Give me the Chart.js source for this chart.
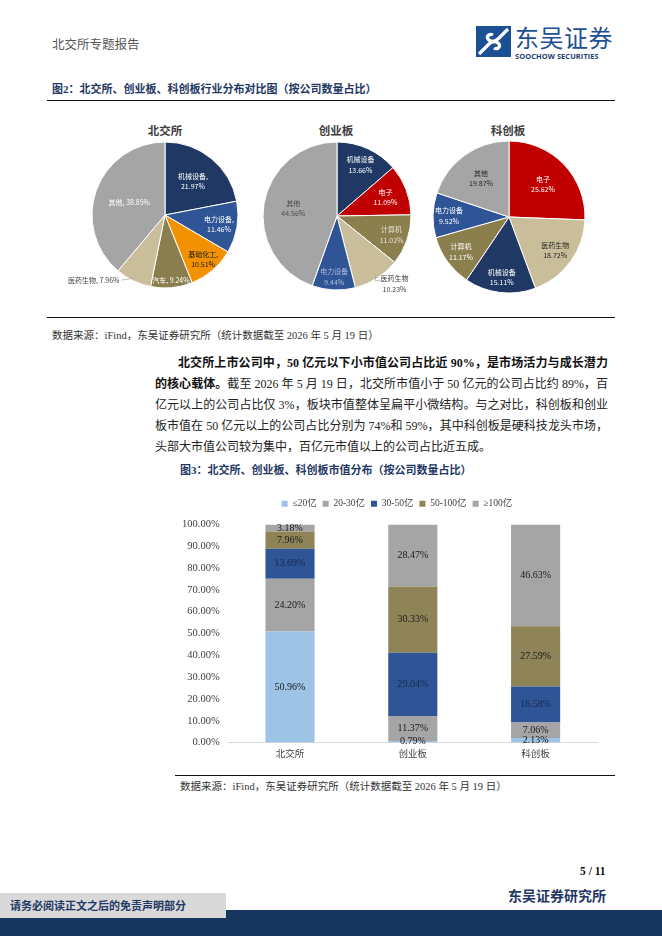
<!DOCTYPE html>
<html>
<head>
<meta charset="utf-8">
<script src="https://cdn.jsdelivr.net/npm/chart.js@4.4.1/dist/chart.umd.min.js"></script>
<style>
  html, body { margin: 0; padding: 0; background: #fff; }
  #page { position: relative; width: 662px; height: 936px; overflow: hidden; font-family: "Liberation Serif", "Noto Sans CJK SC", serif; color: #222; }
  .abs { position: absolute; white-space: nowrap; }
  .hr { position: absolute; background: #111; height: 1.4px; }
  .figtitle { font-family: "Liberation Serif", "Noto Sans CJK SC"; font-weight: bold; font-size: 11px; color: #1F3864; }
  .src { font-size: 10.5px; color: #333; }
  .pietitle { font-family: "Noto Sans CJK SC"; font-weight: bold; font-size: 11.5px; color: #404040; width: 80px; text-align: center; }
  .para { position: absolute; left: 155px; width: 453px; font-size: 12px; line-height: 21.2px; color: #222; }
  .para div { text-align: justify; text-align-last: justify; height: 21.2px; white-space: nowrap; }
  .para div.last { text-align-last: left; }
  .para b { font-weight: bold; color: #111; }
  canvas { position: absolute; }
</style>
</head>
<body>
<div id="page">
  <div class="abs" style="left:52px;top:34px;font-size:12.5px;color:#555;">北交所专题报告</div>

  <svg class="abs" style="left:476px;top:26px;" width="36" height="32" viewBox="0 0 36 32">
    <rect x="0" y="0" width="35" height="31" fill="#1d4f95"/>
    <path d="M3 28 L13 18 C16 15 21 15 23 18 C25 21 21 24 18 22" fill="none" stroke="#fff" stroke-width="3.2"/>
    <path d="M32 3 L22 13 C19 16 14 16 12 13 C10 10 14 7 17 9" fill="none" stroke="#fff" stroke-width="3.2"/>
  </svg>
  <div class="abs" style="left:515px;top:21px;font-family:'Noto Sans CJK SC';font-size:24px;line-height:32px;color:#1d4f95;letter-spacing:0.5px;">东吴证券</div>
  <div class="abs" style="left:515px;top:51px;font-family:'Open Sans','DejaVu Sans';font-weight:bold;font-size:7.4px;color:#1d3d70;letter-spacing:0.1px;">SOOCHOW SECURITIES</div>

  <div class="abs figtitle" style="left:52px;top:80px;">图2：北交所、创业板、科创板行业分布对比图（按公司数量占比）</div>
  <div class="hr" style="left:47px;top:100px;width:568px;"></div>

  <div class="abs pietitle" style="left:125px;top:122px;">北交所</div>
  <div class="abs pietitle" style="left:296px;top:122px;">创业板</div>
  <div class="abs pietitle" style="left:468px;top:122px;">科创板</div>
  <canvas id="pie1" width="230" height="170" style="left:50px;top:130px;width:230px;height:170px;"></canvas>
  <canvas id="pie2" width="230" height="170" style="left:222px;top:131px;width:230px;height:170px;"></canvas>
  <canvas id="pie3" width="230" height="170" style="left:394px;top:132px;width:230px;height:170px;"></canvas>

  <div class="hr" style="left:47px;top:317px;width:568px;"></div>
  <div class="abs src" style="left:52px;top:327px;">数据来源：iFind，东吴证券研究所（统计数据截至 2026 年 5 月 19 日）</div>

  <div class="para" style="top:352.5px;">
    <div style="margin-left:23px;"><b>北交所上市公司中，50 亿元以下小市值公司占比近 90%，是市场活力与成长潜力</b></div>
    <div><b>的核心载体。</b>截至 2026 年 5 月 19 日，北交所市值小于 50 亿元的公司占比约 89%，百</div>
    <div>亿元以上的公司占比仅 3%，板块市值整体呈扁平小微结构。与之对比，科创板和创业</div>
    <div>板市值在 50 亿元以上的公司占比分别为 74%和 59%，其中科创板是硬科技龙头市场，</div>
    <div class="last">头部大市值公司较为集中，百亿元市值以上的公司占比近五成。</div>
  </div>

  <div class="abs figtitle" style="left:180px;top:461px;">图3：北交所、创业板、科创板市值分布（按公司数量占比）</div>
  <canvas id="bar" width="432" height="271" style="left:173px;top:493px;width:432px;height:271px;"></canvas>

  <div class="hr" style="left:175px;top:775px;width:440px;"></div>
  <div class="abs src" style="left:180px;top:778px;">数据来源：iFind，东吴证券研究所（统计数据截至 2026 年 5 月 19 日）</div>

  <div class="abs" style="left:580px;top:865px;font-size:11.5px;font-weight:bold;color:#111;">5 / 11</div>
  <div class="abs" style="left:508px;top:885px;font-size:14px;font-weight:bold;color:#1F3864;font-family:'Noto Sans CJK SC';">东吴证券研究所</div>
  <div class="abs" style="left:0;top:910px;width:662px;height:26px;background:#17375E;"></div>
  <div class="abs" style="left:0;top:893px;width:226px;height:25px;background:#D9D9D9;"></div>
  <div class="abs" style="left:10px;top:897px;font-size:11px;font-weight:bold;color:#1F3864;font-family:'Noto Sans CJK SC';">请务必阅读正文之后的免责声明部分</div>
</div>

<script>
// ---- figure 2: industry share by number of companies ----
const bjsIndustries = ['机械设备', '电力设备', '基础化工', '汽车', '医药生物', '其他'];
const bjsShares = [21.97, 11.46, 10.51, 9.24, 7.96, 38.85];
const cybIndustries = ['机械设备', '电子', '计算机', '医药生物', '电力设备', '其他'];
const cybShares = [13.66, 11.09, 11.02, 10.23, 9.44, 44.56];
const kcbIndustries = ['电子', '医药生物', '机械设备', '计算机', '电力设备', '其他'];
const kcbShares = [25.62, 18.72, 15.11, 11.17, 9.52, 19.87];

// ---- figure 3: market cap distribution ----
const boards = ['北交所', '创业板', '科创板'];
const capBands = ['≤20亿', '20-30亿', '30-50亿', '50-100亿', '≥100亿'];
const capUnder20 = [50.96, 0.79, 2.13];
const cap20to30 = [24.20, 11.37, 7.06];
const cap30to50 = [13.69, 29.04, 16.58];
const cap50to100 = [7.96, 30.33, 27.59];
const capOver100 = [3.18, 28.47, 46.63];
const yTicks = [0, 10, 20, 30, 40, 50, 60, 70, 80, 90, 100];

const industryColors = {
  '机械设备': '#1F3864', '电力设备': '#2F5597', '基础化工': '#F39200', '汽车': '#8A7E4E',
  '医药生物': '#C9BD9A', '其他': '#A5A5A5', '电子': '#C00000', '计算机': '#8B7F4E'
};

// label text layout for each slice: separator, radius fraction, colour, optional outside placement
const pieStyles = {
  pie1: [
    { sep: ',\n', r: 0.6, color: '#fff' },
    { sep: ',\n', r: 0.75, color: '#fff' },
    { sep: ',\n', r: 0.8, color: '#1a1a1a' },
    { sep: ', ', r: 0.9, color: '#fff' },
    { sep: ', ', color: '#404040', out: { dx: -15, dy: 2, align: 'right', leader: [[0, 0], [-13, 2]] } },
    { sep: ', ', r: 0.52, color: '#fff' }
  ],
  pie2: [
    { sep: '\n', r: 0.76, color: '#fff' },
    { sep: '\n', r: 0.7, color: '#fff' },
    { sep: '\n', r: 0.78, color: '#e4e0d0' },
    { sep: '\n', color: '#404040', out: { dx: 19, dy: 3, align: 'center', leader: [[0, 0], [0, 5], [5, 5]] } },
    { sep: '\n', r: 0.82, color: '#a9bbdb' },
    { sep: '\n', r: 0.6, color: '#4a4a4a' }
  ],
  pie3: [
    { sep: '\n', r: 0.62, color: '#fff' },
    { sep: '\n', r: 0.75, color: '#262626' },
    { sep: '\n', r: 0.8, color: '#fff' },
    { sep: '\n', r: 0.78, color: '#fff' },
    { sep: '\n', r: 0.79, color: '#fff' },
    { sep: '\n', r: 0.63, color: '#262626' }
  ]
};

const pieLabels = {
  id: 'pieLabels',
  afterDatasetsDraw(chart) {
    const ctx = chart.ctx;
    const styles = pieStyles[chart.canvas.id];
    const ds = chart.data.datasets[0];
    const lh = 10.5;
    chart.getDatasetMeta(0).data.forEach((arc, i) => {
      const p = arc.getProps(['x', 'y', 'startAngle', 'endAngle', 'outerRadius'], true);
      const mid = (p.startAngle + p.endAngle) / 2;
      const st = styles[i];
      const lines = (chart.data.labels[i] + st.sep + ds.data[i].toFixed(2) + '%').split('\n');
      ctx.save();
      ctx.font = '7px "Noto Sans CJK SC"';
      ctx.textBaseline = 'middle';
      let x, y;
      if (st.out) {
        const ax = p.x + Math.cos(mid) * p.outerRadius * 0.96;
        const ay = p.y + Math.sin(mid) * p.outerRadius * 0.96;
        ctx.strokeStyle = '#a6a6a6';
        ctx.lineWidth = 0.8;
        ctx.beginPath();
        st.out.leader.forEach((pt, k) => k ? ctx.lineTo(ax + pt[0], ay + pt[1]) : ctx.moveTo(ax + pt[0], ay + pt[1]));
        ctx.stroke();
        x = ax + st.out.dx;
        y = ay + st.out.dy;
        ctx.textAlign = st.out.align;
      } else {
        x = p.x + Math.cos(mid) * p.outerRadius * st.r;
        y = p.y + Math.sin(mid) * p.outerRadius * st.r - (lines.length - 1) * lh / 2;
        ctx.textAlign = 'center';
      }
      ctx.fillStyle = st.color;
      lines.forEach((l, k) => ctx.fillText(l, x, y + k * lh));
      ctx.restore();
    });
  }
};

function makePie(id, names, values, radius) {
  new Chart(document.getElementById(id), {
    type: 'pie',
    data: {
      labels: names,
      datasets: [{
        data: values,
        backgroundColor: names.map(n => industryColors[n]),
        borderColor: '#fff',
        borderWidth: 1
      }]
    },
    options: {
      responsive: false,
      animation: false,
      radius: radius,
      layout: { padding: 0 },
      plugins: { legend: { display: false }, tooltip: { enabled: false } }
    },
    plugins: [pieLabels]
  });
}

makePie('pie1', bjsIndustries, bjsShares, 73);
makePie('pie2', cybIndustries, cybShares, 74);
makePie('pie3', kcbIndustries, kcbShares, 76);

const barLabels = {
  id: 'barLabels',
  afterDatasetsDraw(chart) {
    const ctx = chart.ctx;
    ctx.save();
    ctx.font = '10px "Liberation Serif"';
    ctx.textAlign = 'center';
    ctx.textBaseline = 'middle';
    chart.data.datasets.forEach((ds, di) => {
      chart.getDatasetMeta(di).data.forEach((bar, i) => {
        const p = bar.getProps(['x', 'y', 'base'], true);
        ctx.fillStyle = ds.labelColor;
        ctx.fillText(ds.data[i].toFixed(2) + '%', p.x, (p.y + p.base) / 2);
      });
    });
    ctx.restore();
  }
};

// extra gap under the legend, and nudge it over the plot centre
const legendGap = {
  id: 'legendGap',
  beforeInit(chart) {
    const fit = chart.legend.fit;
    chart.legend.fit = function () {
      fit.call(this);
      this.height += 6;
    };
  },
  afterLayout(chart) {
    chart.legend.left += 12;
    chart.legend.right += 12;
  }
};

const bandValues = [capUnder20, cap20to30, cap30to50, cap50to100, capOver100];
const bandColors = ['#9DC3E6', '#A5A5A5', '#2F5597', '#8E8457', '#A5A5A5'];
const bandLabelColors = ['#1a1a1a', '#1a1a1a', '#16284a', '#1a1a1a', '#1a1a1a'];

new Chart(document.getElementById('bar'), {
  type: 'bar',
  data: {
    labels: boards,
    datasets: capBands.map((name, k) => ({
      label: name,
      data: bandValues[k],
      backgroundColor: bandColors[k],
      labelColor: bandLabelColors[k],
      barPercentage: 0.4,
      categoryPercentage: 1
    }))
  },
  options: {
    responsive: false,
    animation: false,
    layout: { padding: { right: 8 } },
    plugins: {
      tooltip: { enabled: false },
      legend: {
        position: 'top',
        labels: {
          boxWidth: 6, boxHeight: 6, padding: 6,
          color: '#404040',
          font: { family: '"Liberation Serif", "Noto Sans CJK SC"', size: 9.5 }
        }
      }
    },
    scales: {
      x: {
        stacked: true,
        grid: { display: false, drawTicks: false },
        border: { color: '#d9d9d9' },
        ticks: { color: '#404040', padding: 5, font: { family: '"Noto Sans CJK SC"', size: 9.5 } }
      },
      y: {
        stacked: true,
        min: 0, max: 100,
        afterBuildTicks: axis => { axis.ticks = yTicks.map(v => ({ value: v })); },
        grid: { display: false, drawTicks: false },
        border: { display: false },
        ticks: {
          color: '#404040', padding: 9,
          font: { family: '"Liberation Serif"', size: 10.5 },
          callback: v => v.toFixed(2) + '%'
        }
      }
    }
  },
  plugins: [barLabels, legendGap]
});
</script>
</body>
</html>
